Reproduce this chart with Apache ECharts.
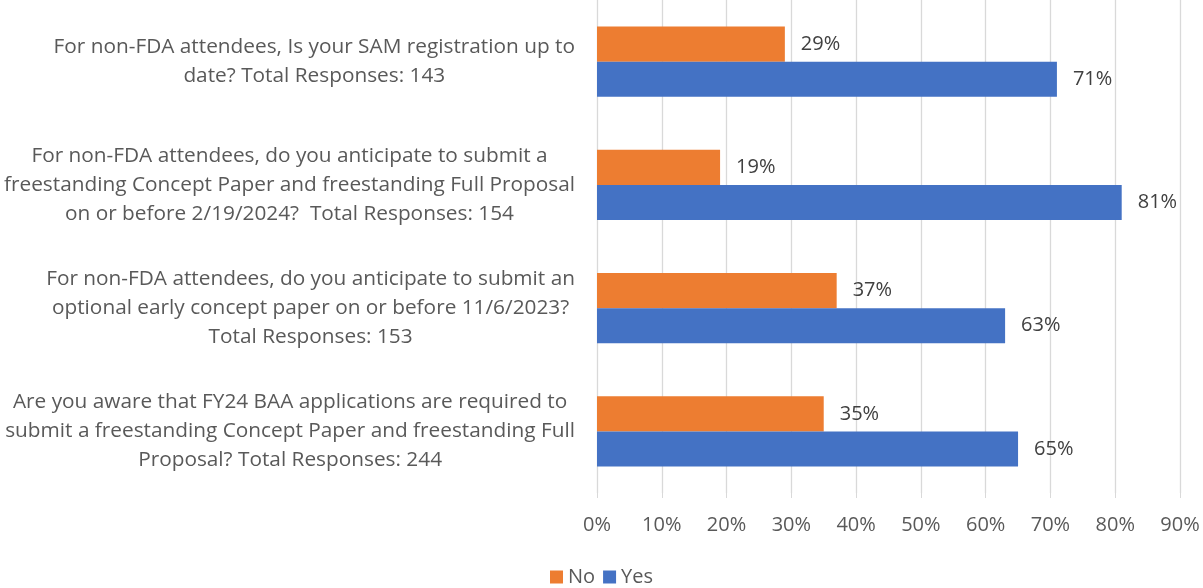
<!DOCTYPE html>
<html><head><meta charset="utf-8">
<script src="https://cdn.jsdelivr.net/npm/echarts@6/dist/echarts.min.js"></script>
<style>html,body{margin:0;padding:0;background:#fff}#c{width:1203px;height:588px}</style>
</head><body><div id="c"></div>
<script>
const categories = [
  "For non-FDA attendees, Is your SAM registration up to\ndate? Total Responses: 143",
  "For non-FDA attendees, do you anticipate to submit a\nfreestanding Concept Paper and freestanding Full Proposal\non or before 2/19/2024?  Total Responses: 154",
  "For non-FDA attendees, do you anticipate to submit an\noptional early concept paper on or before 11/6/2023?\nTotal Responses: 153",
  "Are you aware that FY24 BAA applications are required to\nsubmit a freestanding Concept Paper and freestanding Full\nProposal? Total Responses: 244"
];
const noValues = [29, 19, 37, 35];
const yesValues = [71, 81, 63, 65];
const seriesNames = ["No", "Yes"];
const FONT = "Open Sans";
const chart = echarts.init(document.getElementById('c'));
chart.setOption({
  animation: false,
  textStyle: {fontFamily: FONT},
  grid: {left: 597, right: 23, top: 0, bottom: 95, containLabel: false, outerBoundsMode: 'none'},
  legend: {
    data: seriesNames, bottom: -4, left: 'center', itemWidth: 13, itemHeight: 13, itemGap: 8,
    icon: 'rect', textStyle: {fontSize: 20, color: '#595959', fontFamily: FONT}
  },
  xAxis: {
    type: 'value', min: 0, max: 90, interval: 10,
    axisLine: {show: false},
    axisTick: {show: true, length: 5, lineStyle: {color: '#d9d9d9'}},
    splitLine: {lineStyle: {color: '#d9d9d9', width: 1.3}},
    axisLabel: {formatter: '{value}%', fontSize: 20, color: '#595959', margin: 22, fontFamily: FONT}
  },
  yAxis: {
    type: 'category', data: categories, inverse: true,
    axisLine: {show: false}, axisTick: {show: false},
    axisLabel: {
      margin: 22, align: 'right',
      formatter: v => v.split('\n').map(l => '{c|' + l + '}').join('\n'),
      rich: {c: {align: 'center', fontSize: 20.8, lineHeight: 29, color: '#595959', fontFamily: FONT}}
    }
  },
  series: [
    {name: 'No', type: 'bar', data: noValues, barGap: '0%', barCategoryGap: '43%',
     itemStyle: {color: '#ED7D31'},
     label: {show: true, position: 'right', distance: 16, formatter: '{c}%', fontSize: 20, color: '#404040', fontFamily: FONT}},
    {name: 'Yes', type: 'bar', data: yesValues, barGap: '0%', barCategoryGap: '43%',
     itemStyle: {color: '#4472C4'},
     label: {show: true, position: 'right', distance: 16, formatter: '{c}%', fontSize: 20, color: '#404040', fontFamily: FONT}}
  ]
});
</script></body></html>
